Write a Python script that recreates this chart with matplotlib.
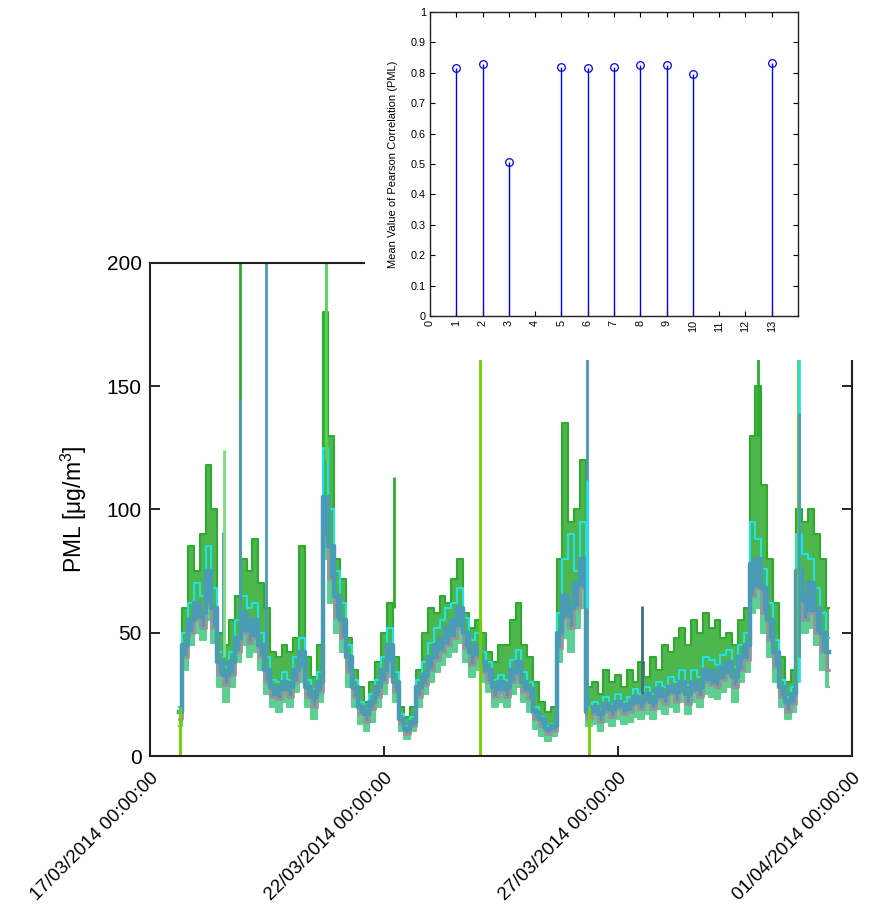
import numpy as np
import matplotlib
matplotlib.use('Agg')
import matplotlib.pyplot as plt
from matplotlib.patches import Rectangle

plt.rcParams['font.family'] = ['Liberation Sans', 'DejaVu Sans']
plt.rcParams['mathtext.default'] = 'regular'

############################################
# data
############################################

# hours since 17/03/2014 00:00, one sample every 3 h
hours = np.arange(15, 349, 3)

pml_blue = [18, 45, 55, 62, 58, 75, 60, 38, 33, 38, 48, 58, 52, 55, 45, 35,
            28, 27, 30, 28, 35, 42, 28, 24, 30, 105, 85, 65, 55, 40, 28, 20,
            17, 22, 28, 35, 45, 30, 15, 11, 14, 28, 33, 40, 45, 48, 52, 55,
            60, 50, 42, 45, 38, 35, 28, 30, 28, 35, 38, 30, 27, 18, 15, 11,
            12, 50, 65, 60, 70, 80, 18, 20, 17, 21, 19, 22, 20, 21, 24, 22,
            25, 22, 27, 25, 28, 26, 30, 25, 30, 28, 35, 34, 32, 36, 38, 32,
            40, 45, 78, 80, 68, 55, 42, 28, 22, 25, 75, 65, 70, 60, 50, 42]

pml_green = [20, 60, 85, 75, 90, 118, 100, 50, 45, 55, 65, 80, 75, 88, 70, 60,
             42, 40, 45, 42, 48, 85, 40, 32, 45, 180, 130, 80, 72, 48, 35, 28,
             22, 30, 38, 50, 62, 40, 20, 16, 20, 35, 50, 60, 58, 65, 62, 72,
             80, 58, 52, 55, 50, 42, 38, 45, 45, 55, 62, 45, 40, 30, 22, 18,
             20, 80, 135, 95, 100, 120, 28, 30, 25, 35, 30, 33, 28, 35, 30, 38,
             32, 40, 35, 45, 42, 48, 52, 45, 55, 50, 58, 52, 55, 48, 50, 45,
             55, 60, 130, 150, 110, 80, 62, 40, 30, 35, 100, 95, 100, 90, 80, 60]

pml_cyan = [20, 50, 62, 70, 65, 85, 68, 42, 36, 42, 55, 65, 60, 62, 50, 40,
            31, 30, 34, 31, 40, 48, 31, 27, 34, 125, 100, 75, 62, 45, 31, 22,
            19, 25, 31, 40, 52, 34, 17, 12, 16, 31, 38, 46, 52, 55, 60, 62,
            68, 56, 47, 50, 42, 38, 31, 33, 31, 39, 43, 34, 30, 20, 16, 12,
            13, 58, 80, 90, 75, 95, 20, 22, 19, 24, 21, 25, 22, 24, 27, 25,
            28, 25, 30, 28, 32, 30, 35, 29, 35, 32, 40, 39, 37, 41, 43, 36,
            45, 50, 95, 88, 76, 62, 47, 31, 24, 28, 90, 82, 80, 68, 58, 48]

pml_gray = [15, 40, 50, 55, 52, 62, 52, 33, 29, 33, 42, 50, 46, 48, 40, 30,
            24, 23, 26, 24, 30, 36, 24, 20, 26, 90, 72, 56, 48, 34, 24, 17,
            14, 19, 24, 30, 38, 26, 13, 9, 12, 24, 29, 35, 39, 42, 45, 48,
            52, 44, 37, 40, 34, 30, 24, 26, 24, 30, 33, 26, 23, 15, 12, 9,
            10, 44, 56, 52, 60, 68, 15, 17, 14, 18, 16, 19, 17, 18, 21, 19,
            22, 19, 23, 21, 25, 22, 26, 21, 26, 24, 30, 29, 28, 31, 33, 28,
            35, 39, 65, 68, 58, 47, 36, 24, 18, 21, 62, 55, 58, 50, 42, 35]

pml_aqua = [12, 35, 45, 50, 47, 55, 46, 28, 22, 28, 38, 45, 40, 42, 35, 25,
            20, 18, 22, 20, 26, 30, 20, 15, 22, 80, 62, 50, 42, 28, 20, 13,
            10, 14, 20, 25, 32, 22, 10, 7, 10, 20, 25, 30, 34, 37, 40, 42,
            46, 38, 32, 35, 30, 26, 20, 22, 20, 25, 28, 22, 18, 11, 8, 6,
            8, 38, 48, 42, 52, 60, 12, 13, 10, 14, 12, 15, 13, 14, 16, 15,
            17, 15, 19, 17, 20, 18, 22, 17, 22, 20, 25, 24, 23, 26, 28, 22,
            30, 34, 58, 60, 50, 40, 30, 20, 15, 18, 55, 50, 52, 45, 35, 28]

# short isolated peaks (hour, low, high, colour)
spike_t = [15.5, 37.5, 37.8, 46, 46.4, 59.5, 90.5, 125, 169.2, 224, 224.3, 225,
           252.5, 312, 332.3, 332.6, 332.9]
spike_lo = [0, 35, 40, 60, 55, 40, 120, 60, 0, 20, 60, 0, 25, 130, 30, 30, 40]
spike_hi = [20, 91, 124, 200, 145, 200, 200, 113, 200, 200, 112, 20, 61, 200,
            200, 200, 139]
spike_col = ['#6fd200', '#4a9bb6', '#7ddc7d', '#2eaa2e', '#4a9bb6', '#4a9bb6',
             '#55d055', '#2eaa2e', '#6fd200', '#4a9bb6', '#22e0ee', '#6fd200',
             '#3f707a', '#2eaa2e', '#6fd200', '#22e0ee', '#4a9bb6']

date_ticks = [0, 120, 240, 360]
date_labels = ['17/03/2014 00:00:00', '22/03/2014 00:00:00',
               '27/03/2014 00:00:00', '01/04/2014 00:00:00']

# inset: mean Pearson correlation per station
station = [1, 2, 3, 5, 6, 7, 8, 9, 10, 13]
pearson = [0.815, 0.829, 0.506, 0.820, 0.817, 0.820, 0.826, 0.826, 0.797, 0.832]

############################################

fig = plt.figure(figsize=(8.74, 9.09), dpi=100)

ax = fig.add_axes([0.1716, 0.1683, 0.8032, 0.5424])
ax.fill_between(hours, pml_blue, pml_green, step='mid', color='#2eaa2e', lw=0, alpha=0.85)
ax.plot(hours, pml_green, drawstyle='steps-mid', color='#2eaa2e', lw=1.5)
ax.plot(hours, pml_cyan, drawstyle='steps-mid', color='#22e0ee', lw=1.5)
ax.fill_between(hours, pml_aqua, pml_gray, step='mid', color='#5ecf92', lw=0)
ax.plot(hours, pml_aqua, drawstyle='steps-mid', color='#5ecf92', lw=1.5)
ax.plot(hours, pml_gray, drawstyle='steps-mid', color='#969696', lw=2)
ax.fill_between(hours, pml_gray, pml_blue, step='mid', color='#4a9bb6', lw=0)
ax.plot(hours, pml_blue, drawstyle='steps-mid', color='#4a9bb6', lw=3.2)
for t, lo, hi, c in zip(spike_t, spike_lo, spike_hi, spike_col):
    ax.vlines(t, lo, hi, colors=c, lw=2)

ax.set_xlim(0, 360)
ax.set_ylim(0, 200)
ax.set_yticks([0, 50, 100, 150, 200])
ax.set_xticks(date_ticks)
ax.set_xticklabels(date_labels, rotation=45, ha='right', va='top',
                   rotation_mode='anchor', fontsize=13.5)
ax.tick_params(axis='y', labelsize=15, direction='in', length=7, width=1.2,
               left=True, right=True, pad=6)
ax.tick_params(axis='x', direction='in', length=7, width=1.2, top=True, pad=10)
for s in ax.spines.values():
    s.set_linewidth(1.5)
    s.set_color('#222222')
ax.set_ylabel('PML [μg/m$^{3}$]', fontsize=16.5)
ax.yaxis.set_label_coords(-0.087, 0.5)

# white box behind the inset hides the top-right of the main plot
fig.add_artist(Rectangle((0.4176, 0.604), 0.6, 0.4, transform=fig.transFigure,
                         facecolor='white', edgecolor='none', zorder=1))

ins = fig.add_axes([0.492, 0.6524, 0.421, 0.3344])
ins.set_zorder(2)
mk, st, bl = ins.stem(station, pearson, basefmt=' ')
st.set_color('blue')
st.set_linewidth(1)
mk.set_markerfacecolor('none')
mk.set_markeredgecolor('blue')
mk.set_markersize(5.5)
mk.set_markeredgewidth(0.9)
ins.set_xlim(0, 14)
ins.set_ylim(0, 1)
ins.set_xticks(range(0, 14))
ins.set_yticks(np.arange(0, 1.01, 0.1))
ins.set_yticklabels(['0', '0.1', '0.2', '0.3', '0.4', '0.5', '0.6', '0.7',
                     '0.8', '0.9', '1'])
ins.tick_params(axis='x', labelrotation=90)
ins.tick_params(labelsize=7.8, direction='in', length=3.5, width=0.8,
                top=True, right=True, pad=3)
for s in ins.spines.values():
    s.set_linewidth(1)
    s.set_color('#222222')
ins.set_ylabel('Mean Value of Pearson Correlation (PML)', fontsize=8)
ins.yaxis.set_label_coords(-0.087, 0.5)

fig.savefig('out.png', dpi=100)
